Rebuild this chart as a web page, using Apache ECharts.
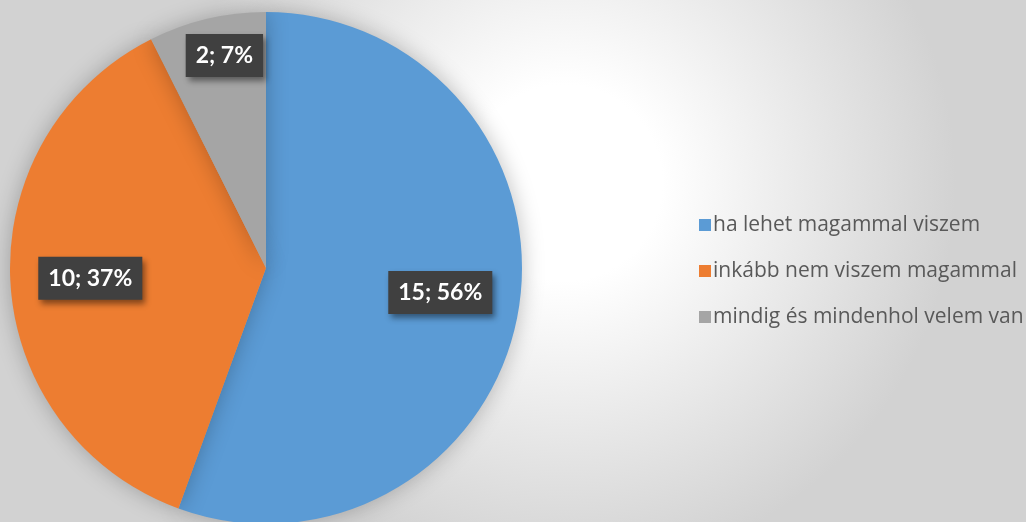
<!DOCTYPE html>
<html>
<head>
<meta charset="utf-8">
<script src="https://cdn.jsdelivr.net/npm/echarts@6/dist/echarts.min.js"></script>
<style>
html,body{margin:0;padding:0;}
#chart{width:1026px;height:522px;}
</style>
</head>
<body>
<div id="chart"></div>
<script>
const categories = ['ha lehet magammal viszem', 'inkább nem viszem magammal', 'mindig és mindenhol velem van'];
const values = [15, 10, 2];
const percents = [56, 37, 7];
const colors = ['#5B9BD5', '#ED7D31', '#A5A5A5'];

const chart = echarts.init(document.getElementById('chart'));

const center = [266, 268];
const labelBox = {
  show: true,
  position: 'inside',
  color: '#ffffff',
  fontFamily: 'Lato',
  fontWeight: 'bold',
  fontSize: 23,
  lineHeight: 27,
  backgroundColor: '#404040',
  padding: [8, 10, 8, 10],
  shadowColor: 'rgba(0,0,0,0.45)',
  shadowBlur: 6,
  shadowOffsetX: 3,
  shadowOffsetY: 4,
  formatter: p => values[p.dataIndex] + '; ' + percents[p.dataIndex] + '%'
};

function overlay(radius, showIdx, start) {
  return {
    type: 'pie',
    silent: true,
    center: center,
    radius: [0, radius],
    startAngle: start,
    clockwise: true,
    legendHoverLink: false,
    emphasis: { disabled: true },
    labelLine: { show: false },
    itemStyle: { color: 'rgba(0,0,0,0)', borderWidth: 0 },
    data: categories.map((c, i) => ({
      name: c,
      value: values[i],
      label: Object.assign({}, labelBox, { show: showIdx.indexOf(i) >= 0 })
    })),
    z: 5
  };
}

chart.setOption({
  animation: false,
  backgroundColor: {
    type: 'radial', x: 0.55, y: 0.35, r: 0.75,
    colorStops: [
      { offset: 0, color: '#ffffff' },
      { offset: 0.25, color: '#ffffff' },
      { offset: 1, color: '#d2d2d2' }
    ]
  },
  color: colors,
  legend: {
    orient: 'vertical',
    left: 694,
    top: 209,
    itemWidth: 12,
    itemHeight: 12,
    itemGap: 24,
    icon: 'rect',
    textStyle: { color: '#595959', fontSize: 21, lineHeight: 22, fontFamily: 'Open Sans', padding: [0, 0, 0, -3] },
    data: categories
  },
  series: [
    {
      type: 'pie',
      center: center,
      radius: [0, 256],
      startAngle: 90,
      clockwise: true,
      label: { show: false },
      labelLine: { show: false },
      emphasis: { disabled: true },
      itemStyle: { shadowBlur: 22, shadowColor: 'rgba(0,0,0,0.25)' },
      data: categories.map((c, i) => ({ name: c, value: values[i] }))
    },
    overlay(346, [0], 92),
    overlay(346, [1], 90),
    overlay(427, [2], 87.75)
  ]
});
</script>
</body>
</html>
